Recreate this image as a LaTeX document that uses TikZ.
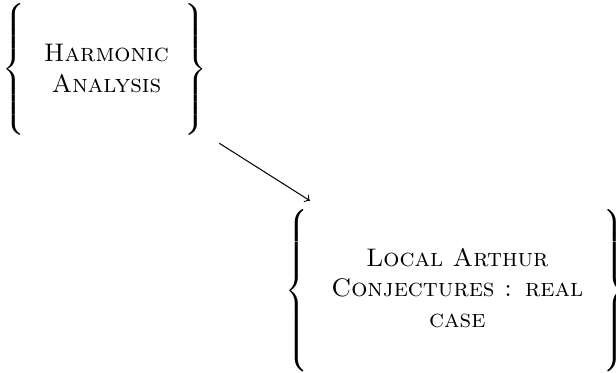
\documentclass[tikz,border=0pt]{standalone}
\usepackage{graphicx}
\newcommand\mybrace[3]{\raisebox{#3}{$\vcenter{\hbox{\resizebox*{\width}{#2}{$\left#1\vrule height 30pt depth 30pt width 0pt\right.$}}}$}}
\begin{document}
\begin{tikzpicture}[x=1pt,y=1pt,
  bracebox/.style={inner sep=3.33pt}]
\useasboundingbox (0,0) rectangle (242.5,-146.5);
\node[bracebox] (ha) at (41.9,-28.3)
  {$\mybrace{\{}{54pt}{-1.4pt}\vcenter{\hbox{\begin{minipage}{61.6pt}\centering\textsc{Harmonic Analysis}\end{minipage}}}\mybrace{\}}{54pt}{-1.4pt}$};
\node[bracebox] (lac) at (180,-115.8)
  {$\mybrace{\{}{66.6pt}{-2.4pt}\vcenter{\hbox{\begin{minipage}{115pt}\centering\textsc{Local Arthur Conjectures : real case}\end{minipage}}}\mybrace{\}}{66.6pt}{-2.4pt}$};
\draw[->] (ha) -- (lac);
\end{tikzpicture}
\end{document}
